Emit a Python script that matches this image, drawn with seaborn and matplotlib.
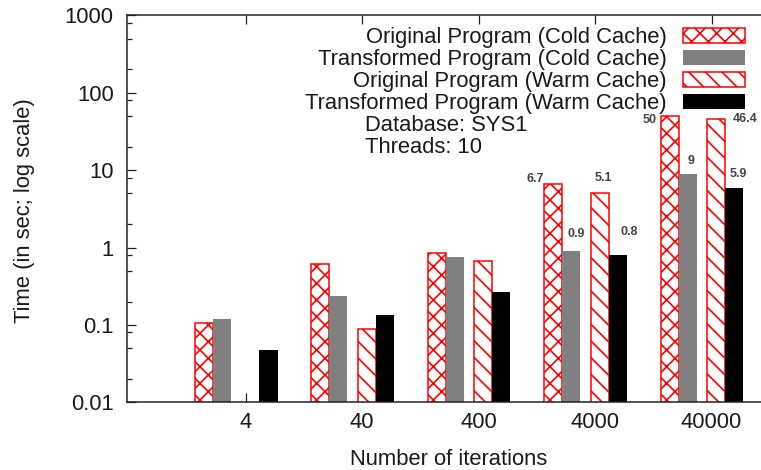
import numpy as np
import pandas as pd
import matplotlib
matplotlib.use("Agg")
import matplotlib.pyplot as plt
from matplotlib.patches import Patch
from matplotlib.ticker import LogLocator, NullFormatter
import seaborn as sns

iterations = ["4", "40", "400", "4000", "40000"]
series_names = [
    "Original Program (Cold Cache)",
    "Transformed Program (Cold Cache)",
    "Original Program (Warm Cache)",
    "Transformed Program (Warm Cache)",
]
orig_cold = [0.105, 0.62, 0.84, 6.7, 50]
trans_cold = [0.12, 0.235, 0.76, 0.9, 9]
orig_warm = [np.nan, 0.088, 0.67, 5.1, 46.4]
trans_warm = [0.048, 0.135, 0.27, 0.8, 5.9]

y_ticks = [0.01, 0.1, 1, 10, 100, 1000]
y_tick_labels = ["0.01", "0.1", "1", "10", "100", "1000"]

# numbers printed next to the bars of the two biggest groups: (series, group, text)
value_labels = [
    (0, 3, "6.7"), (1, 3, "0.9"), (2, 3, "5.1"), (3, 3, "0.8"),
    (0, 4, "50"), (1, 4, "9"), (2, 4, "46.4"), (3, 4, "5.9"),
]
notes = ["Database: SYS1", "Threads: 10"]

# styling (gnuplot-like layout)
offsets = [-0.36, -0.205, 0.04, 0.195]
bar_w = 0.155
faces = ["white", "#808080", "white", "black"]
edges = ["red", "#808080", "red", "black"]
hatches = ["xx", None, "\\\\", None]
label_shift = [(-18, 2), (5, 14), (4, 12), (11, 20),
               (-20, -7), (3, 10), (29, -3), (4, 11)]

values = [orig_cold, trans_cold, orig_warm, trans_warm]
rows = []
for s, name in enumerate(series_names):
    for g, it in enumerate(iterations):
        rows.append({"series": name, "iterations": it,
                     "pos": g + offsets[s], "time": values[s][g]})
df = pd.DataFrame(rows).dropna()

sns.set_style("ticks")
plt.rcParams["font.family"] = ["Liberation Sans", "DejaVu Sans"]
plt.rcParams["hatch.linewidth"] = 1.2
text_col = "#1a1a1a"

W, H = 761, 470
fig = plt.figure(figsize=(W / 100, H / 100), dpi=100)
ax = fig.add_axes([127 / W, (H - 402.3) / H, 701 / W, 387 / H])
ax.set_yscale("log")

for s, name in enumerate(series_names):
    sub = df[df["series"] == name]
    sns.barplot(data=sub, x="pos", y="time", native_scale=True, width=bar_w,
                orient="x", errorbar=None, saturation=1, color=faces[s], ax=ax)
    for p in ax.containers[-1]:
        p.set_facecolor(faces[s])
        p.set_edgecolor(edges[s])
        p.set_linewidth(1.1 if hatches[s] else 0)
        if hatches[s]:
            p.set_hatch(hatches[s])

for (s, g, txt), (dx, dy) in zip(value_labels, label_shift):
    ax.annotate(txt, xy=(g + offsets[s], values[s][g]), xytext=(dx, dy),
                textcoords="offset pixels", ha="center", va="baseline",
                fontsize=9, fontweight="bold", color="#444444",
                annotation_clip=False)

ax.set_xlim(-1.02, 5.0)
ax.set_ylim(0.01, 1000)
ax.set_xticks(range(len(iterations)), labels=iterations)
ax.set_yticks(y_ticks, labels=y_tick_labels)
ax.yaxis.set_minor_locator(LogLocator(base=10, subs=(2, 5, 8)))
ax.yaxis.set_minor_formatter(NullFormatter())
ax.tick_params(axis="both", which="major", direction="in", length=6.5,
               width=0.9, colors="#222222", labelcolor=text_col, labelsize=15.8)
ax.tick_params(axis="x", pad=7.3, top=True, bottom=True)
ax.tick_params(axis="y", pad=9.5, right=False)
ax.tick_params(axis="y", which="minor", direction="in", length=3.6,
               width=0.9, colors="#222222", right=False)
for side in ["left", "bottom", "top", "right"]:
    ax.spines[side].set_visible(True)
    ax.spines[side].set_linewidth(1.1)
    ax.spines[side].set_color("#222222")

ax.set_xlabel("Number of iterations", fontsize=15.8, color=text_col)
ax.xaxis.set_label_coords((448.6 - 127) / 701, -(465 - 402.3) / 387)
ax.xaxis.label.set_va("baseline")
ax.set_ylabel("Time (in sec; log scale)", fontsize=15.8, color=text_col)
ax.yaxis.set_label_coords((24 - 127) / 701, (402.3 - 211) / 387)
ax.yaxis.label.set_va("center")

handles = [Patch(facecolor=faces[s], edgecolor=edges[s],
                 hatch=hatches[s], linewidth=1.1 if hatches[s] else 0)
           for s in range(len(series_names))]
ax.legend(handles, series_names, loc="upper right",
          bbox_to_anchor=(745 / W, 1 - 27 / H), bbox_transform=fig.transFigure,
          frameon=False, markerfirst=False, fontsize=15.8,
          handlelength=2.82, handleheight=0.64, handletextpad=0.73,
          labelspacing=0.05, borderpad=0, borderaxespad=0, labelcolor=text_col)

for i, note in enumerate(notes):
    fig.text(365 / W, 1 - (131 + 22 * i) / H, note, fontsize=15.8,
             color=text_col, va="baseline", ha="left")

fig.savefig("out.png", dpi=100)
